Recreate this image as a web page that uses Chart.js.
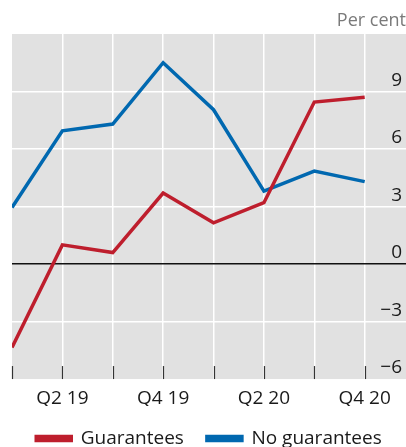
<!DOCTYPE html>
<html>
<head>
<meta charset="utf-8">
<script src="https://cdn.jsdelivr.net/npm/chart.js@4/dist/chart.umd.min.js"></script>
<style>
  body { margin: 0; background: #fff; }
  canvas { display: block; }
</style>
</head>
<body>
<canvas id="lineChart" width="406" height="447"></canvas>
<script>
const quarters = ['Q1 19', 'Q2 19', 'Q3 19', 'Q4 19', 'Q1 20', 'Q2 20', 'Q3 20', 'Q4 20'];
const guarantees = [-4.35, 1.0, 0.6, 3.7, 2.15, 3.2, 8.45, 8.7];
const noGuarantees = [2.95, 6.95, 7.3, 10.5, 8.05, 3.8, 4.85, 4.3];
const yTicks = [-6, -3, 0, 3, 6, 9];

const toPoints = (arr) => arr.map((v, i) => ({ x: i, y: v }));

// grey panel behind the plot + small tick marks along the bottom
const panel = {
    id: 'panel',
    beforeDraw(chart) {
        const { ctx, chartArea: a } = chart;
        ctx.save();
        ctx.fillStyle = '#e1e1e1';
        ctx.fillRect(a.left, a.top, a.right - a.left, a.bottom - a.top);
        ctx.restore();
    },
    beforeDatasetsDraw(chart) {
        const { ctx, chartArea: a, scales } = chart;
        ctx.save();
        ctx.strokeStyle = '#333';
        ctx.lineWidth = 1.2;
        scales.x.ticks.forEach(t => {
            const x = Math.round(scales.x.getPixelForValue(t.value)) + 0.5;
            ctx.beginPath();
            ctx.moveTo(x, a.bottom - 13);
            ctx.lineTo(x, a.bottom);
            ctx.stroke();
        });
        ctx.restore();
    }
};

const ctx = document.getElementById('lineChart').getContext('2d');
new Chart(ctx, {
    type: 'line',
    data: {
        datasets: [{
            label: 'Guarantees',
            data: toPoints(guarantees),
            borderColor: '#be1e2d',
            backgroundColor: '#be1e2d',
            borderWidth: 3.5,
            pointRadius: 0
        },
        {
            label: 'No guarantees',
            data: toPoints(noGuarantees),
            borderColor: '#0068b0',
            backgroundColor: '#0068b0',
            borderWidth: 3.5,
            pointRadius: 0
        }]
    },
    options: {
        responsive: false,
        animation: false,
        layout: { padding: { left: 12, right: 0, top: 0, bottom: -11 } },
        plugins: {
            title: {
                display: true,
                text: 'Per cent',
                align: 'end',
                color: '#7a7a7a',
                font: { family: 'Open Sans', size: 18, weight: 'normal', lineHeight: 1.0 },
                padding: { top: 12, bottom: 4 }
            },
            legend: {
                position: 'bottom',
                labels: {
                    color: '#1a1a1a',
                    font: { family: 'Open Sans', size: 19 },
                    boxWidth: 35,
                    boxHeight: 4,
                    padding: 23
                }
            },
            tooltip: { enabled: false }
        },
        scales: {
            x: {
                type: 'linear',
                min: 0,
                max: 7.82,
                afterBuildTicks: (scale) => {
                    scale.ticks = quarters.map((q, i) => ({ value: i }));
                },
                afterFit: (scale) => {
                    scale.height -= 13;
                },
                grid: {
                    color: (c) => c.tick && c.tick.value === 0 ? 'rgba(0,0,0,0)' : '#ffffff',
                    lineWidth: 1.5,
                    drawTicks: false
                },
                border: { display: false },
                ticks: {
                    autoSkip: false,
                    maxRotation: 0,
                    padding: 10,
                    color: '#1a1a1a',
                    font: { family: 'Open Sans', size: 19, lineHeight: 1.05 },
                    callback: (v) => (v % 2 === 1 ? quarters[v] : '')
                }
            },
            y: {
                position: 'right',
                min: -6,
                max: 12,
                afterBuildTicks: (scale) => {
                    scale.ticks = yTicks.concat([12]).map(v => ({ value: v }));
                },
                afterFit: (scale) => {
                    scale.width = 0;
                },
                grid: {
                    color: (c) => {
                        if (!c.tick) return '#ffffff';
                        if (c.tick.value === 0) return '#111111';
                        if (c.tick.value === 12 || c.tick.value === -6) return 'rgba(0,0,0,0)';
                        return '#ffffff';
                    },
                    lineWidth: 1.5,
                    drawTicks: false
                },
                border: { display: false },
                ticks: {
                    mirror: true,
                    padding: -4,
                    labelOffset: -11,
                    color: '#1a1a1a',
                    font: { family: 'Open Sans', size: 19 },
                    callback: (v) => (v === 12 ? '' : String(v).replace('-', '\u2212'))
                }
            }
        }
    },
    plugins: [panel]
});
</script>
</body>
</html>
